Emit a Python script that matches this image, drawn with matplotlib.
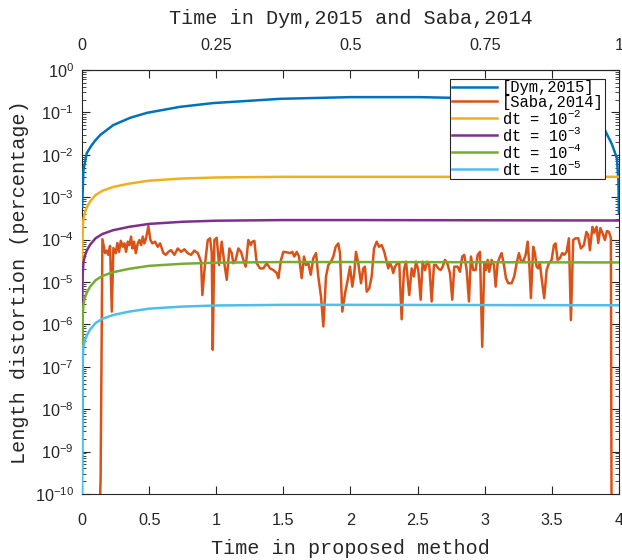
import numpy as np
import matplotlib
matplotlib.use('Agg')
import matplotlib.pyplot as plt
from matplotlib.ticker import LogLocator, NullFormatter

# the proposed method runs 4x longer than the time axis of Dym,2015 / Saba,2014
time_ratio = 4.0

# [Dym,2015] -- time on the top axis (0..1), log10 of distortion
u_dym = [0.0, 0.0025, 0.0087, 0.018, 0.024, 0.034, 0.058, 0.089, 0.121, 0.182,
         0.244, 0.307, 0.369, 0.499, 0.629, 0.778, 0.872, 0.927, 0.955, 0.974,
         0.987, 0.9963, 0.999, 1.0]
log_dym = [-3.23, -2.36, -1.96, -1.77, -1.67, -1.53, -1.30, -1.13, -1.01, -0.87,
           -0.78, -0.73, -0.68, -0.64, -0.64, -0.68, -0.78, -0.94, -1.13, -1.42,
           -1.75, -2.08, -2.59, -3.37]

# [Saba,2014] -- time on the top axis (0..1), log10 of distortion
u_saba = [0.0298, 0.0345, 0.0378, 0.0428, 0.0460, 0.0490, 0.0521, 0.0553, 0.0583, 0.0628,
          0.0657, 0.0689, 0.0721, 0.0758, 0.0788, 0.0819, 0.0851, 0.0881, 0.0912, 0.0937,
          0.0968, 0.1000, 0.1037, 0.1067, 0.1099, 0.1130, 0.1160, 0.1192, 0.1235, 0.1272,
          0.1309, 0.1359, 0.1410, 0.1453, 0.1514, 0.1559, 0.1607, 0.1657, 0.1719, 0.1782,
          0.1844, 0.1905, 0.1968, 0.2030, 0.2091, 0.2155, 0.2216, 0.2240, 0.2291, 0.2341,
          0.2384, 0.2415, 0.2434, 0.2464, 0.2508, 0.2551, 0.2601, 0.2650, 0.2695, 0.2743,
          0.2788, 0.2818, 0.2862, 0.2911, 0.2961, 0.3004, 0.3048, 0.3097, 0.3142, 0.3171,
          0.3209, 0.3253, 0.3315, 0.3376, 0.3439, 0.3501, 0.3562, 0.3626, 0.3655, 0.3706,
          0.3749, 0.3812, 0.3873, 0.3916, 0.3953, 0.3998, 0.4041, 0.4091, 0.4134, 0.4171,
          0.4214, 0.4259, 0.4307, 0.4358, 0.4400, 0.4451, 0.4494, 0.4544, 0.4587, 0.4637,
          0.4680, 0.4724, 0.4773, 0.4804, 0.4847, 0.4898, 0.4948, 0.4991, 0.5034, 0.5071,
          0.5102, 0.5145, 0.5196, 0.5238, 0.5270, 0.5302, 0.5350, 0.5395, 0.5438, 0.5488,
          0.5531, 0.5581, 0.5629, 0.5674, 0.5704, 0.5736, 0.5767, 0.5797, 0.5829, 0.5872,
          0.5909, 0.5953, 0.5996, 0.6034, 0.6065, 0.6095, 0.6140, 0.6182, 0.6220, 0.6263,
          0.6307, 0.6344, 0.6387, 0.6430, 0.6467, 0.6512, 0.6555, 0.6592, 0.6635, 0.6680,
          0.6717, 0.6760, 0.6803, 0.6853, 0.6896, 0.6933, 0.6996, 0.7039, 0.7082, 0.7119,
          0.7164, 0.7207, 0.7244, 0.7287, 0.7331, 0.7369, 0.7412, 0.7454, 0.7492, 0.7523,
          0.7555, 0.7585, 0.7629, 0.7672, 0.7704, 0.7741, 0.7784, 0.7816, 0.7864, 0.7896,
          0.7939, 0.8002, 0.8050, 0.8095, 0.8138, 0.8169, 0.8218, 0.8263, 0.8300, 0.8330,
          0.8361, 0.8404, 0.8436, 0.8467, 0.8497, 0.8529, 0.8560, 0.8609, 0.8654, 0.8696,
          0.8747, 0.8790, 0.8821, 0.8858, 0.8901, 0.8944, 0.8981, 0.9026, 0.9069, 0.9106,
          0.9149, 0.9194, 0.9242, 0.9292, 0.9348, 0.9395, 0.9428, 0.9460, 0.9507, 0.9540,
          0.9585, 0.9615, 0.9655, 0.9702, 0.9739, 0.9777, 0.9814, 0.9851, 0.9866]
log_saba = [-12, -9.60, -3.99, -4.32, -4.26, -4.36, -4.15, -5.70, -4.20, -4.32,
            -4.08, -4.29, -4.03, -4.17, -4.09, -4.29, -4.05, -4.13, -3.93, -4.21,
            -4.05, -4.32, -4.09, -4.01, -4.13, -3.93, -4.09, -3.97, -3.68, -4.01,
            -4.09, -4.05, -4.17, -4.09, -4.32, -4.36, -4.29, -4.25, -4.36, -4.21,
            -4.29, -4.23, -4.32, -4.36, -4.26, -4.32, -4.52, -5.31, -4.56, -4.01,
            -3.97, -4.32, -6.60, -4.01, -3.96, -4.60, -4.05, -4.56, -4.95, -4.21,
            -4.32, -4.56, -4.48, -4.21, -4.29, -4.48, -4.64, -4.01, -4.13, -4.05,
            -4.03, -4.56, -4.68, -4.68, -4.56, -4.68, -4.72, -4.79, -4.91, -4.48,
            -4.29, -4.30, -4.32, -4.29, -4.40, -4.29, -4.40, -4.91, -4.40, -4.60,
            -4.56, -4.83, -4.44, -4.32, -4.87, -5.35, -6.05, -4.87, -4.60, -4.52,
            -4.40, -4.17, -4.09, -4.32, -5.70, -5.27, -4.95, -4.64, -5.11, -4.79,
            -4.29, -4.56, -5.03, -4.68, -4.64, -5.23, -5.15, -4.87, -4.21, -4.05,
            -4.17, -4.13, -4.29, -4.52, -4.68, -4.56, -4.64, -4.79, -4.64, -4.56,
            -4.56, -5.88, -4.72, -4.52, -4.91, -5.31, -4.68, -4.87, -4.52, -4.72,
            -5.42, -4.52, -4.72, -4.52, -4.60, -5.46, -4.60, -4.60, -4.68, -4.72,
            -4.64, -4.48, -4.56, -4.79, -5.42, -4.64, -4.64, -4.76, -4.40, -4.36,
            -4.72, -5.46, -4.40, -4.72, -4.72, -4.36, -4.29, -6.53, -4.56, -4.72,
            -4.48, -4.76, -4.48, -4.60, -5.11, -4.56, -4.40, -4.32, -4.64, -4.91,
            -5.03, -5.03, -4.87, -4.56, -4.32, -4.48, -4.52, -4.36, -4.05, -4.56,
            -5.38, -4.17, -4.32, -4.64, -4.68, -4.56, -4.91, -5.38, -4.72, -4.56,
            -4.48, -4.13, -4.09, -4.48, -4.44, -4.32, -4.36, -4.29, -3.97, -5.90,
            -4.01, -3.97, -3.97, -4.21, -4.13, -3.82, -3.89, -4.25, -3.70, -3.84,
            -3.70, -4.08, -3.73, -3.87, -4.01, -3.80, -3.82, -3.96, -12]

# proposed method, time on the bottom axis (0..4), log10 of distortion
t_dt = [0.0005, 0.002, 0.005, 0.01, 0.02, 0.035, 0.06, 0.1, 0.15, 0.23,
        0.35, 0.5, 0.75, 1.0, 1.5, 2.0, 3.0, 4.0]
log_dt2 = [-7.5, -4.12, -3.77, -3.52, -3.37, -3.24, -3.10, -2.95, -2.85, -2.76,
           -2.68, -2.61, -2.56, -2.535, -2.52, -2.52, -2.52, -2.52]
log_dt3 = [-8.5, -5.14, -4.79, -4.54, -4.39, -4.26, -4.12, -3.97, -3.87, -3.78,
           -3.70, -3.63, -3.58, -3.555, -3.54, -3.54, -3.545, -3.55]
log_dt4 = [-9.5, -6.13, -5.78, -5.53, -5.38, -5.25, -5.11, -4.96, -4.86, -4.77,
           -4.69, -4.62, -4.57, -4.545, -4.53, -4.53, -4.535, -4.54]
log_dt5 = [-10.5, -7.14, -6.79, -6.54, -6.39, -6.26, -6.12, -5.97, -5.87, -5.78,
           -5.70, -5.63, -5.58, -5.555, -5.54, -5.54, -5.545, -5.55]

labels = ['[Dym,2015]', '[Saba,2014]',
          r'dt = $\mathdefault{10^{-2}}$', r'dt = $\mathdefault{10^{-3}}$',
          r'dt = $\mathdefault{10^{-4}}$', r'dt = $\mathdefault{10^{-5}}$']
colors = ['#0072BD', '#D95319', '#EDB120', '#7E2F8E', '#77AC30', '#4DBEEE']

x_ticks = [0, 0.5, 1, 1.5, 2, 2.5, 3, 3.5, 4]
top_ticks = [0, 0.25, 0.5, 0.75, 1]

axcol = '#262626'
mono = 'Liberation Mono'
plt.rcParams['font.family'] = 'Liberation Sans'
plt.rcParams['font.size'] = 11.7
plt.rcParams['axes.edgecolor'] = axcol
plt.rcParams['xtick.color'] = axcol
plt.rcParams['ytick.color'] = axcol
plt.rcParams['axes.linewidth'] = 0.8

fig = plt.figure(figsize=(6.22, 5.6), dpi=100)
ax = fig.add_axes([0.132, 0.118, 0.863, 0.757])

lw = 1.8
ax.plot(np.array(u_dym) * time_ratio, 10.0 ** np.array(log_dym), color=colors[0], lw=lw, label=labels[0], zorder=3)
ax.plot(np.array(u_saba) * time_ratio, 10.0 ** np.array(log_saba), color=colors[1], lw=lw, label=labels[1], zorder=3)
for vals, c, lab in zip([log_dt2, log_dt3, log_dt4, log_dt5], colors[2:], labels[2:]):
    ax.plot(t_dt, 10.0 ** np.array(vals), color=c, lw=lw, label=lab, zorder=3)

ax.set_yscale('log')
ax.set_xlim(0, 4)
ax.set_ylim(1e-10, 1)
ax.set_xticks(x_ticks)
ax.set_xticklabels(['%g' % v for v in x_ticks])
ax.yaxis.set_major_locator(LogLocator(base=10, numticks=20))
ax.yaxis.set_minor_locator(LogLocator(base=10, subs=np.arange(2, 10), numticks=200))
ax.yaxis.set_minor_formatter(NullFormatter())
ax.tick_params(axis='x', which='both', direction='in', top=True, bottom=True, length=6, pad=14)
ax.tick_params(axis='y', which='major', direction='in', left=True, right=True, length=6, pad=6)
ax.tick_params(axis='y', which='minor', direction='in', left=True, right=True, length=3)

ax.set_xlabel('Time in proposed method', family=mono, size=14.5, color=axcol, labelpad=7.5)
ax.set_ylabel('Length distortion (percentage)', family=mono, size=14.5, color=axcol, labelpad=4)

sec = ax.secondary_xaxis('top', functions=(lambda t: t / time_ratio, lambda u: u * time_ratio))
sec.set_xticks(top_ticks)
sec.set_xticklabels(['%g' % v for v in top_ticks])
sec.tick_params(length=0, pad=12.5, colors=axcol)
sec.set_xlabel('Time in Dym,2015 and Saba,2014', family=mono, size=14.5, color=axcol, labelpad=10)

leg = ax.legend(loc='upper right', bbox_to_anchor=(0.974, 0.979), borderaxespad=0,
                prop={'family': mono, 'size': 11.2}, handlelength=2.9, handletextpad=0.3,
                labelspacing=-0.06, borderpad=0.1, fancybox=False, framealpha=1,
                edgecolor=axcol)
leg.get_frame().set_linewidth(0.8)
leg.set_zorder(5)

fig.savefig('out.png', dpi=100)
